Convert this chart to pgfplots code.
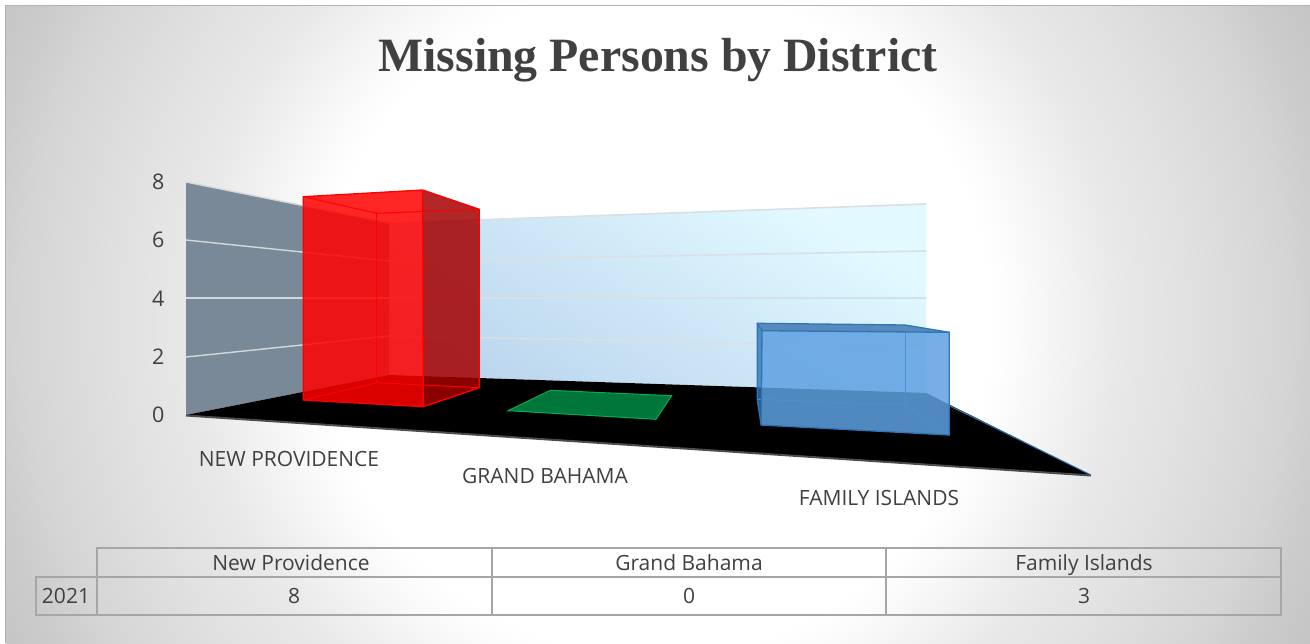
\documentclass[border=0pt]{standalone}
\usepackage{pgfplots}
\pgfplotsset{compat=1.18}
\usepackage{fontspec}
\setmainfont{Open Sans}
\newfontfamily\titlefont{Liberation Serif}
\definecolor{txt}{HTML}{404040}
\definecolor{tbl}{HTML}{A6A6A6}
\definecolor{wallL}{HTML}{7A8998}
\definecolor{gridL}{HTML}{D4D8DC}
\definecolor{gridB}{HTML}{D8E0E6}
\definecolor{wallA}{HTML}{BBD5EE}
\definecolor{wallB}{HTML}{E2FAFF}
\definecolor{barR}{HTML}{FF0000}
\definecolor{barRd}{HTML}{A40000}
\definecolor{barB}{HTML}{5FA0E2}
\definecolor{barBd}{HTML}{4A7FB5}
\definecolor{barBe}{HTML}{2E75B6}
\definecolor{barBf}{HTML}{4A90D0}
\definecolor{barG}{HTML}{00763A}
\definecolor{barGe}{HTML}{00B050}
\pgfdeclareradialshading{chartbg}{\pgfpoint{0bp}{0bp}}{%
  rgb(0bp)=(1,1,1); rgb(11.2bp)=(1,1,1); rgb(12.3bp)=(.98,.98,.98);
  rgb(15.5bp)=(.91,.91,.91); rgb(17.5bp)=(.886,.886,.886);
  rgb(21bp)=(.835,.835,.835); rgb(22.5bp)=(.8,.8,.8);
  rgb(25.5bp)=(.753,.753,.753); rgb(50bp)=(.753,.753,.753)}
\tikzset{lab/.style={text=txt,anchor=base,font=\fontsize{21}{25}\selectfont}}
\begin{document}
\begin{tikzpicture}[x=1pt,y=1pt]
\useasboundingbox (0,0) rectangle (1310,643);
\begin{scope}
  \clip (6,0) rectangle (1310,637.5);
  \shade[shading=chartbg] (655-750,323-750) rectangle (655+750,323+750);
\end{scope}
\draw[black!30,line width=1pt] (5.5,0) -- (5.5,637.5) -- (1310,637.5);
\begin{axis}[
  at={(0pt,0pt)},anchor=south west,width=1310pt,height=643pt,scale only axis,
  xmin=0,xmax=1310,ymin=0,ymax=643,y dir=reverse,hide axis,clip=false]
% back wall
\addplot[draw=none,shading=axis,left color=wallA,middle color=wallA,right color=wallB,shading angle=150,forget plot]
  coordinates {(389,223)(926,204)(926,393)(389,375)} --cycle;
\addplot[gridB,line width=1.6pt] coordinates {(389,223)(926,204)};
\addplot[gridB,line width=1.6pt] coordinates {(389,261)(926,251)};
\addplot[gridB,line width=1.6pt] coordinates {(389,298)(926,298)};
\addplot[gridB,line width=1.6pt] coordinates {(389,336)(926,346)};
% side wall
\addplot[fill=wallL,draw=none] coordinates {(186,182)(389,223)(389,375)(186,415)} --cycle;
\addplot[gridL,line width=1.4pt] coordinates {(186,182)(389,223)};
\addplot[gridL,line width=1.4pt] coordinates {(186,240)(389,261)};
\addplot[gridL,line width=1.4pt] coordinates {(186,298)(389,298)};
\addplot[gridL,line width=1.4pt] coordinates {(186,357)(389,336)};
% floor
\addplot[fill=black,draw=none] coordinates {(186,415)(389,375)(926,393)(1091,475)} --cycle;
\addplot[black!70,line width=2pt] coordinates {(186,415.5)(1091,475.5)};
\addplot[barBe,line width=1pt] coordinates {(950,406)(1091,475)};
% New Providence: 8
\addplot[fill=barR,fill opacity=0.85,draw=none] coordinates {(303.3,196.7)(422.7,190)(423.3,406.7)(303.3,400)} --cycle;
\addplot[fill=barRd,fill opacity=0.85,draw=none] coordinates {(422.7,190)(479.3,209.3)(479.3,387.7)(423.3,406.7)} --cycle;
\addplot[barR,line width=1pt] coordinates {(303.3,196.7)(376.7,213.3)(479.3,209.3)};
\addplot[barR,line width=1pt] coordinates {(376.7,213.3)(376.7,382.7)};
\addplot[barR,line width=1pt] coordinates {(303.3,400)(376.7,382.7)(479.3,387.7)};
\addplot[barR,line width=1.3pt] coordinates {(303.3,196.7)(422.7,190)(479.3,209.3)(479.3,387.7)(423.3,406.7)(303.3,400)} --cycle;
\addplot[barR,line width=1.3pt] coordinates {(422.7,190)(423.3,406.7)};
% Grand Bahama: 0
\addplot[fill=barG,draw=barGe,line width=1pt] coordinates {(550.3,390.3)(671.6,395.7)(656,419.3)(508,410.7)} --cycle;
% Family Islands: 3
\addplot[fill=barB,fill opacity=0.85,draw=none] coordinates {(762,330.7)(949.3,332.3)(949.3,435)(761.2,425)} --cycle;
\addplot[fill=barBd,fill opacity=0.9,draw=none] coordinates {(757.2,323.3)(905,325)(949.3,332.3)(762,330.7)} --cycle;
\addplot[fill=barBe,fill opacity=0.8,draw=none] coordinates {(757.2,323.3)(762,330.7)(761.2,425)(757.2,399.3)} --cycle;
\addplot[barBf,line width=1pt] coordinates {(905,325)(905,405)};
\addplot[barBf,line width=1pt] coordinates {(757.2,399.3)(905,405)(949.3,435)};
\addplot[barBe,line width=1.3pt] coordinates {(757.2,323.3)(905,325)(949.3,332.3)(949.3,435)(761.2,425)(757.2,399.3)} --cycle;
\addplot[barBe,line width=1.3pt] coordinates {(757.2,323.3)(762,330.7)(949.3,332.3)};
\addplot[barBe,line width=1.3pt] coordinates {(762,330.7)(761.2,425)};
% table
\addplot[tbl,line width=2pt] coordinates {(97,577)(97,548)(1281,548)(1281,615)(36,615)(36,577)(1281,577)};
\addplot[tbl,line width=2pt] coordinates {(97,577)(97,615)};
\addplot[tbl,line width=2pt] coordinates {(492,548)(492,615)};
\addplot[tbl,line width=2pt] coordinates {(886,548)(886,615)};
% texts
\node[text=txt,anchor=base,font=\titlefont\bfseries\fontsize{47.8}{54}\selectfont] at (axis cs:658,71) {Missing Persons by District};
\node[lab] at (axis cs:289,466) {NEW PROVIDENCE};
\node[lab] at (axis cs:545,483) {GRAND BAHAMA};
\node[lab] at (axis cs:879,505) {FAMILY ISLANDS};
\node[lab] at (axis cs:291,570) {New Providence};
\node[lab] at (axis cs:689,570) {Grand Bahama};
\node[lab] at (axis cs:1084,570) {Family Islands};
\node[lab] at (axis cs:66,603) {2021};
\node[lab] at (axis cs:294,603) {8};
\node[lab] at (axis cs:689,603) {0};
\node[lab] at (axis cs:1084,603) {3};
\end{axis}
\begin{axis}[
  at={(186pt,228pt)},anchor=south west,width=10pt,height=233pt,scale only axis,
  xmin=0,xmax=1,ymin=0,ymax=8,ytick={0,2,4,6,8},
  axis y line=left,axis x line=none,y axis line style={draw=none},
  tick style={draw=none},major tick length=0pt,
  /pgf/number format/assume math mode=true,
  yticklabel style={text=txt,font=\fontsize{21.5}{25}\selectfont,xshift=-18pt}]
\addplot[draw=none] coordinates {(0,0)(1,8)};
\end{axis}
\end{tikzpicture}
\end{document}
